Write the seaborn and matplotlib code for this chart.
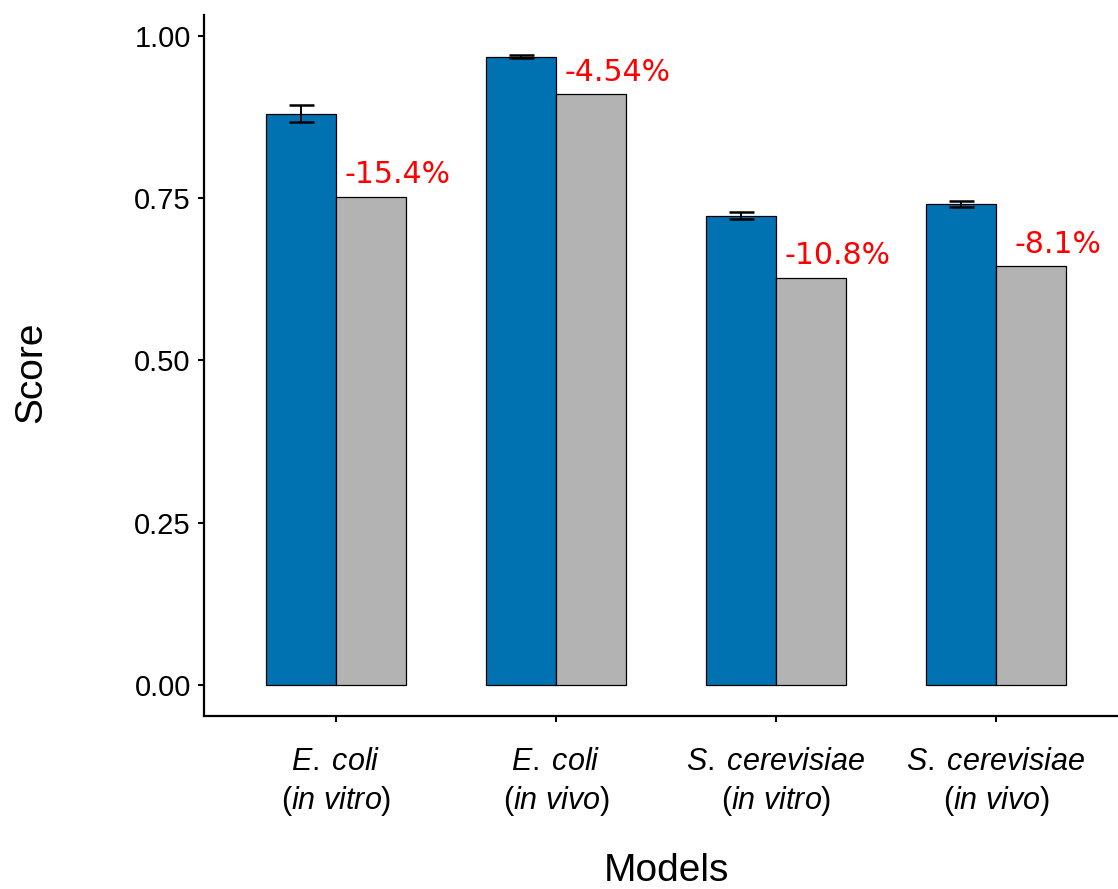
import matplotlib
matplotlib.use("Agg")
import matplotlib.pyplot as plt
import seaborn as sns
import pandas as pd

# ---- data ----
models = ["E. coli (in vitro)", "E. coli (in vivo)",
          "S. cerevisiae (in vitro)", "S. cerevisiae (in vivo)"]
tick_labels = [
    r"$\mathit{E.\;coli}$" "\n" r"($\mathit{in\ vitro}$)",
    r"$\mathit{E.\;coli}$" "\n" r"($\mathit{in\ vivo}$)",
    r"$\mathit{S.\;cerevisiae}$" "\n" r"($\mathit{in\ vitro}$)",
    r"$\mathit{S.\;cerevisiae}$" "\n" r"($\mathit{in\ vivo}$)",
]
full_scores = [0.880, 0.968, 0.723, 0.741]
full_err = [0.0135, 0.0025, 0.005, 0.005]
reduced_scores = [0.752, 0.910, 0.627, 0.645]
change_labels = ["-15.4%", "-4.54%", "-10.8%", "-8.1%"]
series = ["Full", "Reduced"]
colors = ["#0072B2", "#B3B3B3"]

df = pd.DataFrame({
    "Models": models * 2,
    "Score": full_scores + reduced_scores,
    "Type": [series[0]] * 4 + [series[1]] * 4,
})

sns.set_theme(style="ticks")
plt.rcParams["font.family"] = ["Liberation Sans", "DejaVu Sans"]
plt.rcParams["mathtext.fontset"] = "custom"
plt.rcParams["mathtext.rm"] = "Liberation Sans"
plt.rcParams["mathtext.it"] = "Liberation Sans:italic"

fig = plt.figure(figsize=(11.18, 8.89), dpi=100)
W, H = 1118, 889
ax = fig.add_axes([204 / W, 1 - 716 / H, 924 / W, 701 / H])

sns.barplot(data=df, x="Models", y="Score", hue="Type", palette=colors,
            width=0.64, edgecolor="black", linewidth=0.9, errorbar=None,
            legend=False, ax=ax, saturation=1)

blue_bars = ax.containers[0]
gray_bars = ax.containers[1]
bx = [p.get_x() + p.get_width() / 2 for p in blue_bars]
ax.errorbar(bx, full_scores, yerr=full_err, fmt="none", ecolor="black",
            elinewidth=1.4, capsize=9, capthick=1.8, zorder=5)

for p, lab, v in zip(gray_bars, change_labels, reduced_scores):
    ax.text(p.get_x() + p.get_width() / 2 + 0.12, v + 0.034, lab,
            color="red", ha="center", va="center", fontsize=21.5,
            family="DejaVu Sans")

ax.set_xlim(-0.6, 3.6)
ax.set_ylim(-0.048, 1.032)
ax.set_yticks([0.0, 0.25, 0.5, 0.75, 1.0])
ax.set_yticklabels(["0.00", "0.25", "0.50", "0.75", "1.00"])
ax.set_xticks(range(4))
ax.set_xticklabels(tick_labels, linespacing=1.25)

for s in ["top", "right"]:
    ax.spines[s].set_visible(False)
for s in ["left", "bottom"]:
    ax.spines[s].set_linewidth(1.6)
    ax.spines[s].set_color("black")

ax.tick_params(axis="both", length=4.5, width=1.5,
               color="black", labelcolor="black")
ax.tick_params(axis="y", pad=5, labelsize=21)
ax.tick_params(axis="x", pad=18, labelsize=22)

ax.set_xlabel("Models", fontsize=28, color="black")
ax.set_ylabel("Score", fontsize=28, color="black")
ax.yaxis.set_label_coords(-0.168, 0.49)
ax.xaxis.set_label_coords(0.5, -0.195)

fig.savefig("out.png", dpi=100)
